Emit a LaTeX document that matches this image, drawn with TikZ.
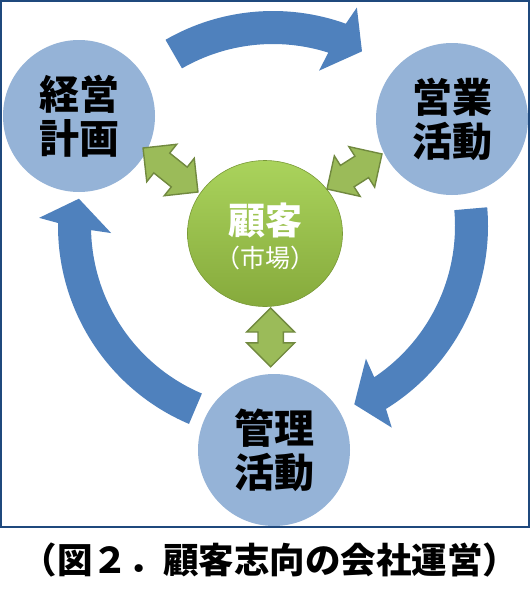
\documentclass[tikz,border=0pt]{standalone}
\usepackage{fontspec}
\newfontfamily\jp{Noto Sans CJK JP}
\usetikzlibrary{shapes.geometric}
\definecolor{arrowblue}{HTML}{4F81BD}
\definecolor{circblue}{HTML}{95B3D7}
\definecolor{framecol}{HTML}{1F497D}
\definecolor{greenfill}{HTML}{9BBB59}
\definecolor{greenline}{HTML}{71893F}
\definecolor{greentop}{HTML}{AAD35C}
\definecolor{greenbot}{HTML}{86AA3C}
\tikzset{
  bluecirc/.style={circle, fill=circblue, minimum size=152pt, inner sep=0pt,
    align=center, font=\jp\bfseries\fontsize{40}{44}\selectfont, text=black},
  greenarr/.style={fill=greenfill, draw=greenline, line width=1.4pt, line join=miter},
  cyc/.style={fill=arrowblue},
}
\newcommand\cycarrow[2]{%
  \fill[cyc] (#1:215) arc[start angle=#1, end angle=#2+7.2, radius=215]
    -- (#2+6:234) -- (#2:196) -- (#2+10.5:162) -- (#2+9.3:182)
    arc[start angle=#2+9.3, end angle=#1, radius=182] -- cycle;}
\newcommand\dblarr[4]{%
  \begin{scope}[shift={(#1,#2)}, rotate=#3]
    \filldraw[greenarr] (-#4,0) -- (-#4+24,24) -- (-#4+24,12.7) -- (#4-24,12.7)
      -- (#4-24,24) -- (#4,0) -- (#4-24,-24) -- (#4-24,-12.7) -- (-#4+24,-12.7)
      -- (-#4+24,-24) -- cycle;
  \end{scope}}
\begin{document}
\begin{tikzpicture}[x=1pt,y=1pt]
\useasboundingbox (0,0) rectangle (530,-600);
\fill[white] (0,0) rectangle (530,-600);
% cycle arrows
\begin{scope}[shift={(273,-226)}]
  \cycarrow{120}{63}
  \cycarrow{5}{-65.5}
  \cycarrow{247}{172}
\end{scope}
% circles
\node[bluecirc] (plan) at (79,-116) {経営\\計画};
\node[bluecirc] (sales) at (452,-119) {営業\\活動};
\node[bluecirc] (admin) at (274,-450) {管理\\活動};
% customer
\node[ellipse, minimum width=155pt, minimum height=146pt, inner sep=0pt,
  top color=greentop, bottom color=greenbot, draw=greenbot!90!black, line width=0.6pt] (cust) at (265,-233.5) {};
\node[font=\jp\bfseries\fontsize{37}{40}\selectfont, text=white] (custa) at (265,-220) {顧客};
\node[font=\jp\fontsize{25}{28}\selectfont, text=white] (custb) at (265,-258) {（市場）};
% double arrows
\dblarr{170.5}{-170}{-38.7}{35.2}
\dblarr{354.5}{-171.5}{32.5}{32.6}
\dblarr{270.7}{-337.4}{90}{29.4}
% frame
\draw[framecol, line width=2pt] (1,-1) rectangle (528.5,-526.5);
% caption
\node[font=\jp\bfseries\fontsize{35.5}{40}\selectfont] (cap) at (270,-560) {（図２．顧客志向の会社運営）};
\end{tikzpicture}
\end{document}
